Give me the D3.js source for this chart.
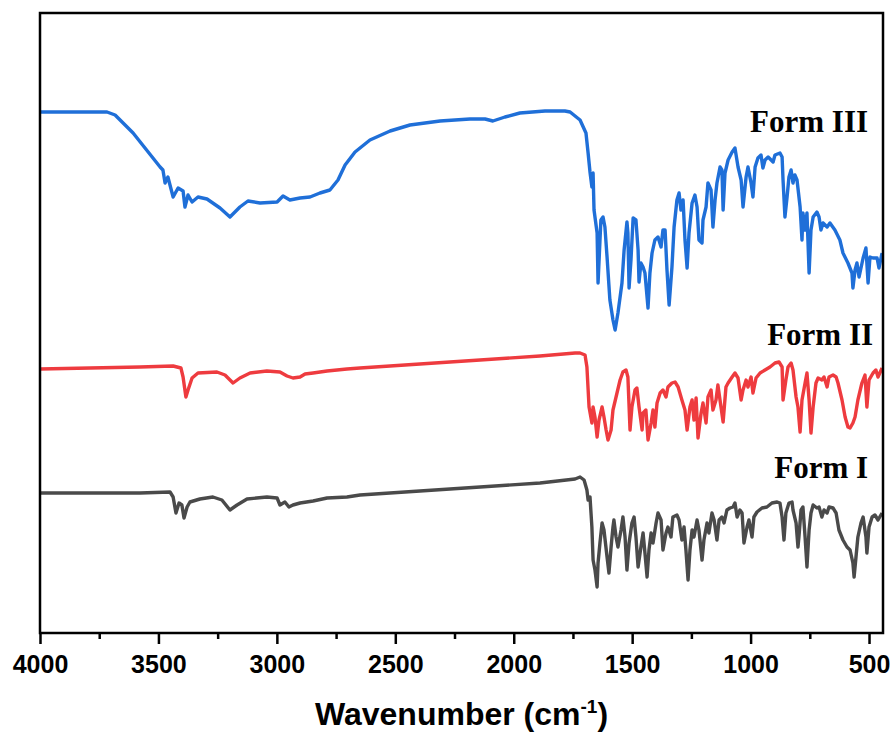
<!DOCTYPE html>
<html>
<head>
<meta charset="utf-8">
<script src="https://cdn.jsdelivr.net/npm/d3@7"></script>
<style>
  body { margin: 0; background: #fff; }
  .tick text { font-family: "Liberation Sans", Arial, sans-serif; font-weight: bold; font-size: 25px; fill: #000; }
  .tick line { stroke: #000; stroke-width: 2.5; }
  .line { fill: none; stroke-width: 3.4; stroke-linejoin: round; }
  .formLabel { font-family: "Liberation Serif", "Times New Roman", serif; font-weight: bold; font-size: 31px; }
</style>
</head>
<body>
<svg id="chart"></svg>
<script>
const margin = {top: 13, right: 9, bottom: 101, left: 40},
    svgWidth = 892,
    svgHeight = 734,
    width = svgWidth - margin.left - margin.right,
    height = svgHeight - margin.top - margin.bottom;

// wavenumber (cm-1) / offset transmittance (a.u.)
const form3Wave = [4000,3717,3683,3607,3493,3481,3472,3460,3438,3417,3396,3388,3375,3358,3333,3295,3240,3198,3156,3122,3071,2999,2974,2945,2902,2860,2818,2776,2742,2712,2670,2607,2522,2438,2311,2185,2121,2088,2037,1974,1868,1784,1762,1720,1695,1686,1678,1670,1665,1661,1648,1644,1632,1623,1615,1606,1594,1581,1572,1560,1543,1534,1522,1518,1513,1505,1496,1484,1475,1471,1463,1454,1446,1433,1425,1416,1404,1391,1378,1370,1361,1353,1344,1332,1323,1311,1302,1294,1285,1277,1268,1260,1247,1235,1226,1218,1205,1201,1188,1180,1167,1159,1150,1142,1129,1121,1116,1108,1095,1078,1066,1053,1040,1032,1019,1011,998,990,981,969,956,948,939,926,905,897,876,867,863,855,846,838,829,821,813,804,791,783,779,770,762,753,745,736,720,711,703,694,677,665,644,623,610,589,572,568,559,551,542,525,513,504,496,483,466,458,445];
const form3T = [104.2,104.2,103.6,100,93.2,92.6,90,91.2,87.2,89,88.4,85.2,87.6,86.2,87.2,86.8,85,83.2,85.2,86.4,86,86.2,87.4,86.6,87,87.2,88,88.6,90.6,93.6,96.2,98.6,100.4,101.6,102.4,102.8,102.8,102.4,103.2,104,104.4,104.4,104.2,102.6,100,96,92.2,89.2,92,84.6,80,70,82.6,83.2,81.2,75.2,66.6,62.6,60.6,64,70,76.6,82.2,80,69,74.6,83,82.6,76.6,70.2,74,73.2,72,65,72,76,78.6,79.2,77.2,80.6,80.6,72.6,65.6,73.2,81.2,86.6,88,84.6,86.6,78.6,73,80,86,87.6,85.2,78.6,78,82.6,85.2,90,88.6,81.2,86.6,90,93.2,92.6,84.6,92,94.6,96.2,97,93.2,90.6,85.2,91.2,93.2,90,87.2,93.2,95,95.6,93,94.6,95.2,94.2,95.6,96,95.2,90.6,83.2,87.2,91.2,92.6,90,91.6,90.6,85.2,78.6,84,80.6,84,72,80.6,83.2,84.2,83.2,80.6,82,81.2,82,80.6,78.6,76,74,72,69,72.6,74,71.2,75,77,70,75.2,75,75,73,76];

const form2Wave = [4000,3578,3438,3405,3396,3384,3375,3358,3333,3253,3219,3185,3156,3113,3042,2987,2957,2932,2902,2881,2847,2788,2704,2649,2396,2142,1889,1741,1720,1699,1691,1682,1670,1665,1657,1648,1640,1627,1619,1610,1602,1589,1581,1564,1551,1539,1526,1518,1509,1501,1488,1480,1471,1458,1454,1442,1433,1420,1412,1404,1395,1382,1370,1357,1349,1332,1319,1306,1290,1277,1268,1256,1247,1239,1230,1222,1209,1201,1188,1180,1167,1159,1146,1138,1125,1116,1104,1095,1078,1066,1053,1040,1032,1019,1011,998,990,977,960,939,918,897,880,867,863,851,842,829,821,808,800,791,783,770,762,753,745,736,724,715,699,690,677,669,652,639,631,614,601,589,580,568,559,547,530,517,509,500,483,471,462,445];
const form2T = [52.8,53.2,53.4,53,51.2,47.2,48.6,51,52,52.2,51.6,50,51,52,52.4,52.2,51.4,51,51.2,51.8,52,52.4,52.8,53,53.8,54.6,55.4,56,56,55.6,53.2,45.2,42,45.2,43.2,39.2,42.6,45.2,43.2,40.6,38.6,40.6,44.6,48,50.6,52.2,52.6,51.2,40.6,45.2,48.6,49,45.2,40.6,44,44.6,38.6,42,44.6,41.2,46,48,48.6,47.2,49.2,50,50.2,49.2,46.6,44.6,40.6,45.2,46.6,42.6,47,39,44,46,42,47.2,48.6,44.6,46.6,49.6,45.2,42.2,49.2,50,51.2,52,51,46.6,48.6,50.6,49.2,51.2,48,51,52,52.6,53.2,54,54.2,53.2,46.6,50.6,53.2,54,52.6,47.2,45.2,40.2,46.6,50,52,46.6,40,45.2,50,51,50.6,51.2,49.2,51.2,51.6,51.2,50,46.6,43.2,41.2,41,42,43.2,46.6,50,51.6,45.2,50.6,52,52.6,51.2,53];

const form1Wave = [4000,3578,3451,3438,3426,3413,3401,3392,3379,3367,3325,3270,3232,3198,3168,3126,3042,2999,2987,2966,2949,2932,2902,2847,2788,2704,2649,2396,2142,1889,1741,1720,1703,1691,1686,1678,1670,1665,1657,1648,1644,1636,1627,1619,1606,1598,1589,1581,1577,1568,1560,1547,1539,1530,1522,1513,1501,1492,1484,1475,1463,1454,1446,1437,1429,1420,1412,1399,1391,1378,1370,1357,1349,1336,1328,1311,1302,1290,1281,1273,1264,1256,1247,1239,1226,1218,1205,1197,1184,1176,1163,1154,1142,1133,1121,1112,1100,1087,1074,1066,1057,1045,1036,1028,1015,1007,994,986,973,952,931,910,888,876,867,859,851,838,825,821,808,800,796,787,779,770,762,753,745,736,720,711,699,690,677,669,652,639,627,610,593,580,568,563,555,547,534,525,513,509,500,487,475,462,445];
const form1T = [28,28,28.2,27.2,24,26,25.6,23,25.2,26.2,26.8,27.2,26.6,24.6,25.6,26.8,27.2,27,25.6,26.2,25.2,25.6,26,26.4,27,27.2,27.6,28.4,29.2,30,30.8,31.2,30.6,28.6,26.6,27.2,21.2,14.6,12.6,9.2,14,18,22,20.6,15.2,12,17.2,21.2,22.6,19.2,17.2,20.6,23.2,19.2,12.6,18,22,23.2,19.2,13.2,17.2,20,16,11.2,16.6,20,18,22,24,22.6,16.6,20,21.2,19.2,23.2,23.6,22.6,18.6,21.2,16.6,10.6,16.6,20.6,19.2,22.6,20.6,14.6,18.6,22,20,24,22.6,18.6,22.6,23.2,22,24.6,25,25.2,26,23.2,24.6,24,18,21.2,22.6,19.2,23.2,24.2,25,25.2,26,26.2,26,23.2,18.6,24,26,26.2,24.6,22,17.2,19.2,24.6,25.2,19.2,13.2,20.6,24,25.6,25,25.2,23.2,24.6,24,25.2,25,24,20.6,18.6,17.2,16.6,14,11.2,15.2,19.2,22,23.2,19.2,16,21.2,23.2,23.6,22.6,24];

const seriesNames = ["Form III", "Form II", "Form I"];
const seriesColors = ["#1f6fd8", "#ee3b3f", "#4a4a4a"];
// label anchor (wavenumber, transmittance) for each series name
const labelWave = [504, 483, 504];
const labelT = [100.2, 57.6, 31];

const majorTicks = [4000, 3500, 3000, 2500, 2000, 1500, 1000, 500];
const minorTicks = [3750, 3250, 2750, 2250, 1750, 1250, 750];

const series = [
    {name: seriesNames[0], color: seriesColors[0], values: form3Wave.map((w, i) => ({w: w, t: form3T[i]}))},
    {name: seriesNames[1], color: seriesColors[1], values: form2Wave.map((w, i) => ({w: w, t: form2T[i]}))},
    {name: seriesNames[2], color: seriesColors[2], values: form1Wave.map((w, i) => ({w: w, t: form1T[i]}))}
];

const chart = d3.select('#chart')
    .attr("width", svgWidth)
    .attr("height", svgHeight);

const innerChart = chart.append("g")
    .attr("transform", "translate(" + margin.left + "," + margin.top + ")");

var xScale = d3.scaleLinear().domain([4000, 441]).range([0, width]);
var yScale = d3.scaleLinear().domain([0, 124]).range([height, 0]);

var valueline = d3.line()
    .x(function(d){ return xScale(d.w); })
    .y(function(d){ return yScale(d.t); })
    .curve(d3.curveLinear);

// minor ticks
innerChart.append("g")
    .attr("transform", "translate(0," + height + ")")
    .call(d3.axisBottom(xScale).tickValues(minorTicks).tickSize(6).tickFormat(""))
    .call(g => g.select(".domain").remove());

// major ticks + labels
innerChart.append("g")
    .attr("transform", "translate(0," + height + ")")
    .call(d3.axisBottom(xScale).tickValues(majorTicks).tickSize(11).tickPadding(11).tickFormat(d3.format("d")))
    .call(g => g.select(".domain").remove());

// spectra
innerChart.selectAll(".line")
    .data(series)
    .enter()
    .append("path")
    .attr("class", "line")
    .attr("d", d => valueline(d.values))
    .style("stroke", d => d.color);

// frame
innerChart.append("rect")
    .attr("width", width)
    .attr("height", height)
    .attr("fill", "none")
    .attr("stroke", "#000")
    .attr("stroke-width", 2.5);

innerChart.selectAll(".formLabel")
    .data(seriesNames)
    .enter()
    .append("text")
    .attr("class", "formLabel")
    .attr("x", (d, i) => xScale(labelWave[i]))
    .attr("y", (d, i) => yScale(labelT[i]))
    .attr("text-anchor", "end")
    .text(d => d);

// axis title
var title = innerChart.append("text")
    .attr("x", width / 2)
    .attr("y", height + 92)
    .attr("text-anchor", "middle")
    .style("font-family", "'Liberation Sans', Arial, sans-serif")
    .style("font-weight", "bold")
    .style("font-size", "32px");
title.append("tspan").text("Wavenumber (cm");
title.append("tspan").attr("dy", "-12").style("font-size", "19px").text("-1");
title.append("tspan").attr("dy", "12").text(")");
</script>
</body>
</html>
